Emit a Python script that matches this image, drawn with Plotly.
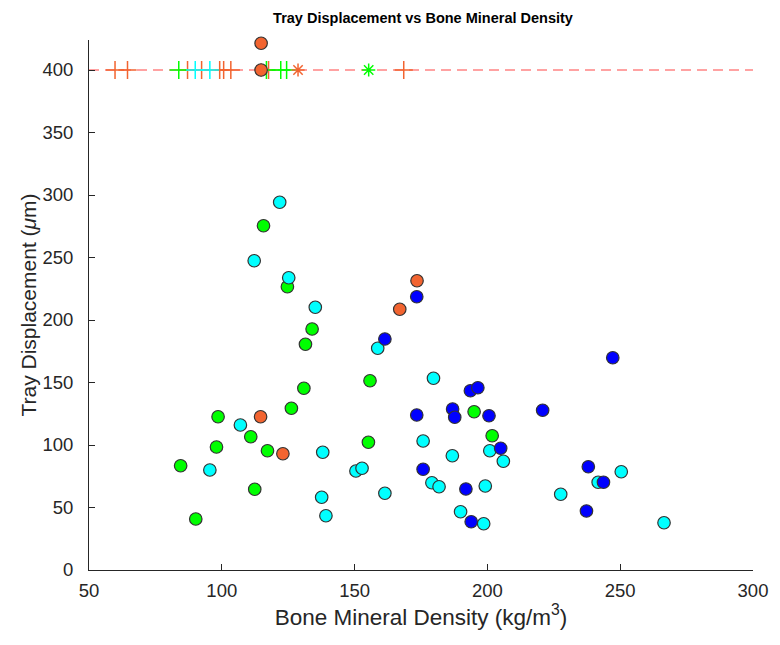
import plotly.graph_objects as go

# Bone mineral density (kg/m^3) and tray displacement (um), one group per colour
green_bmd = [115.7, 124.7, 134.0, 131.5, 130.9, 126.2, 98.6, 110.9, 98.0, 117.2,
             84.5, 112.4, 90.2, 155.8, 155.2, 195.0, 201.8]
green_disp = [275.4, 226.6, 192.8, 180.6, 145.4, 129.4, 122.6, 106.6, 98.4, 95.4,
              83.4, 64.6, 40.8, 151.4, 102.2, 126.6, 107.4]

orange_bmd = [114.6, 123.0, 173.5, 167.0, 114.8, 114.8]
orange_disp = [122.6, 93.0, 231.4, 208.6, 421.4, 400.0]

cyan_bmd = [121.8, 112.2, 125.2, 135.2, 107.0, 138.0, 95.5, 137.6, 139.2, 158.7,
            179.7, 200.9, 206.0, 175.8, 186.8, 150.5, 152.8, 179.1, 181.8, 199.2,
            161.4, 189.9, 198.6, 250.4, 241.7, 227.6, 266.5]
cyan_disp = [294.2, 247.4, 233.8, 210.2, 116.0, 94.2, 80.0, 58.2, 43.4, 177.4,
             153.4, 95.4, 87.0, 103.2, 91.4, 79.2, 81.4, 69.8, 66.6, 67.2,
             61.4, 46.6, 37.0, 78.6, 70.2, 60.6, 37.8]

blue_bmd = [173.4, 161.4, 193.6, 196.4, 173.4, 186.9, 187.7, 200.6, 205.0, 175.8,
            191.9, 193.9, 247.2, 220.8, 238.0, 243.7, 237.3]
blue_disp = [218.6, 184.8, 143.4, 145.8, 124.0, 128.8, 122.2, 123.4, 97.4, 80.6,
             64.8, 38.6, 169.8, 127.8, 82.6, 70.2, 47.2]

# Cases at the displacement limit, shown on the limit line
LIMIT = 400
lim_orange_plus = [59.8, 64.5, 87.1, 92.4, 99.2, 100.7, 103.4, 117.6, 168.5]
lim_green_plus = [83.8, 116.8, 122.2, 124.4]
lim_cyan_plus = [90.0, 95.5]
lim_orange_star = [114.8, 128.7]
lim_green_star = [155.3]

X_RANGE = [50, 300]
Y_RANGE = [0, 424]
X_TICKS = [50, 100, 150, 200, 250, 300]
Y_TICKS = [0, 50, 100, 150, 200, 250, 300, 350, 400]

ORANGE = "#F26430"
GREEN = "#00FF00"
CYAN = "#00FFFF"
BLUE = "#0000FF"
EDGE = "#333333"
INK = "#262626"
FONT = "Liberation Sans, Arial, sans-serif"

fig = go.Figure()

# limit line
fig.add_trace(go.Scatter(
    x=X_RANGE, y=[LIMIT, LIMIT], mode="lines",
    line=dict(color="rgba(255,110,110,0.85)", width=1.5, dash="10px,6px"),
    hoverinfo="skip", showlegend=False))


def limit_marks(xs, color, symbol, size):
    fig.add_trace(go.Scatter(
        x=xs, y=[LIMIT] * len(xs), mode="markers", cliponaxis=False,
        marker=dict(symbol=symbol, size=size, color=color,
                    line=dict(color=color, width=1.5)),
        showlegend=False))


limit_marks(lim_orange_plus, ORANGE, "cross-thin", 13)
limit_marks(lim_green_plus, GREEN, "cross-thin", 13)
limit_marks(lim_cyan_plus, CYAN, "cross-thin", 13)
limit_marks(lim_orange_star, ORANGE, "asterisk-open", 11)
limit_marks(lim_green_star, GREEN, "asterisk-open", 11)


def groups(xs, ys, color):
    fig.add_trace(go.Scatter(
        x=xs, y=ys, mode="markers", cliponaxis=False,
        marker=dict(symbol="circle", size=12.5, color=color,
                    line=dict(color=EDGE, width=1.2)),
        showlegend=False))


groups(orange_bmd, orange_disp, ORANGE)
groups(green_bmd, green_disp, GREEN)
groups(cyan_bmd, cyan_disp, CYAN)
groups(blue_bmd, blue_disp, BLUE)

axis_common = dict(
    showgrid=False, zeroline=False, showline=True, linecolor=INK, linewidth=1,
    ticks="inside", ticklen=6, tickwidth=1, tickcolor=INK,
    tickfont=dict(family=FONT, size=18.5, color=INK), mirror=False,
)

fig.update_layout(
    width=780, height=645,
    margin=dict(l=89, r=19, t=40, b=75),
    paper_bgcolor="white", plot_bgcolor="white",
    title=dict(text="<b>Tray Displacement vs Bone Mineral Density</b>",
               font=dict(family=FONT, size=14.5, color="black"),
               x=423 / 780, xanchor="center", xref="container",
               y=1 - 18 / 645, yanchor="middle", yref="container"),
    xaxis=dict(range=X_RANGE, tickvals=X_TICKS, ticklabelstandoff=4, **axis_common,
               title=dict(text="Bone Mineral Density (kg/m<sup>3</sup>)",
                          font=dict(family=FONT, size=22.5, color=INK), standoff=2)),
    yaxis=dict(range=Y_RANGE, tickvals=Y_TICKS, ticklabelstandoff=11, **axis_common,
               title=dict(text="Tray Displacement (<i>μ</i>m)",
                          font=dict(family=FONT, size=21, color=INK), standoff=0)),
)

fig.write_html("out.html")
